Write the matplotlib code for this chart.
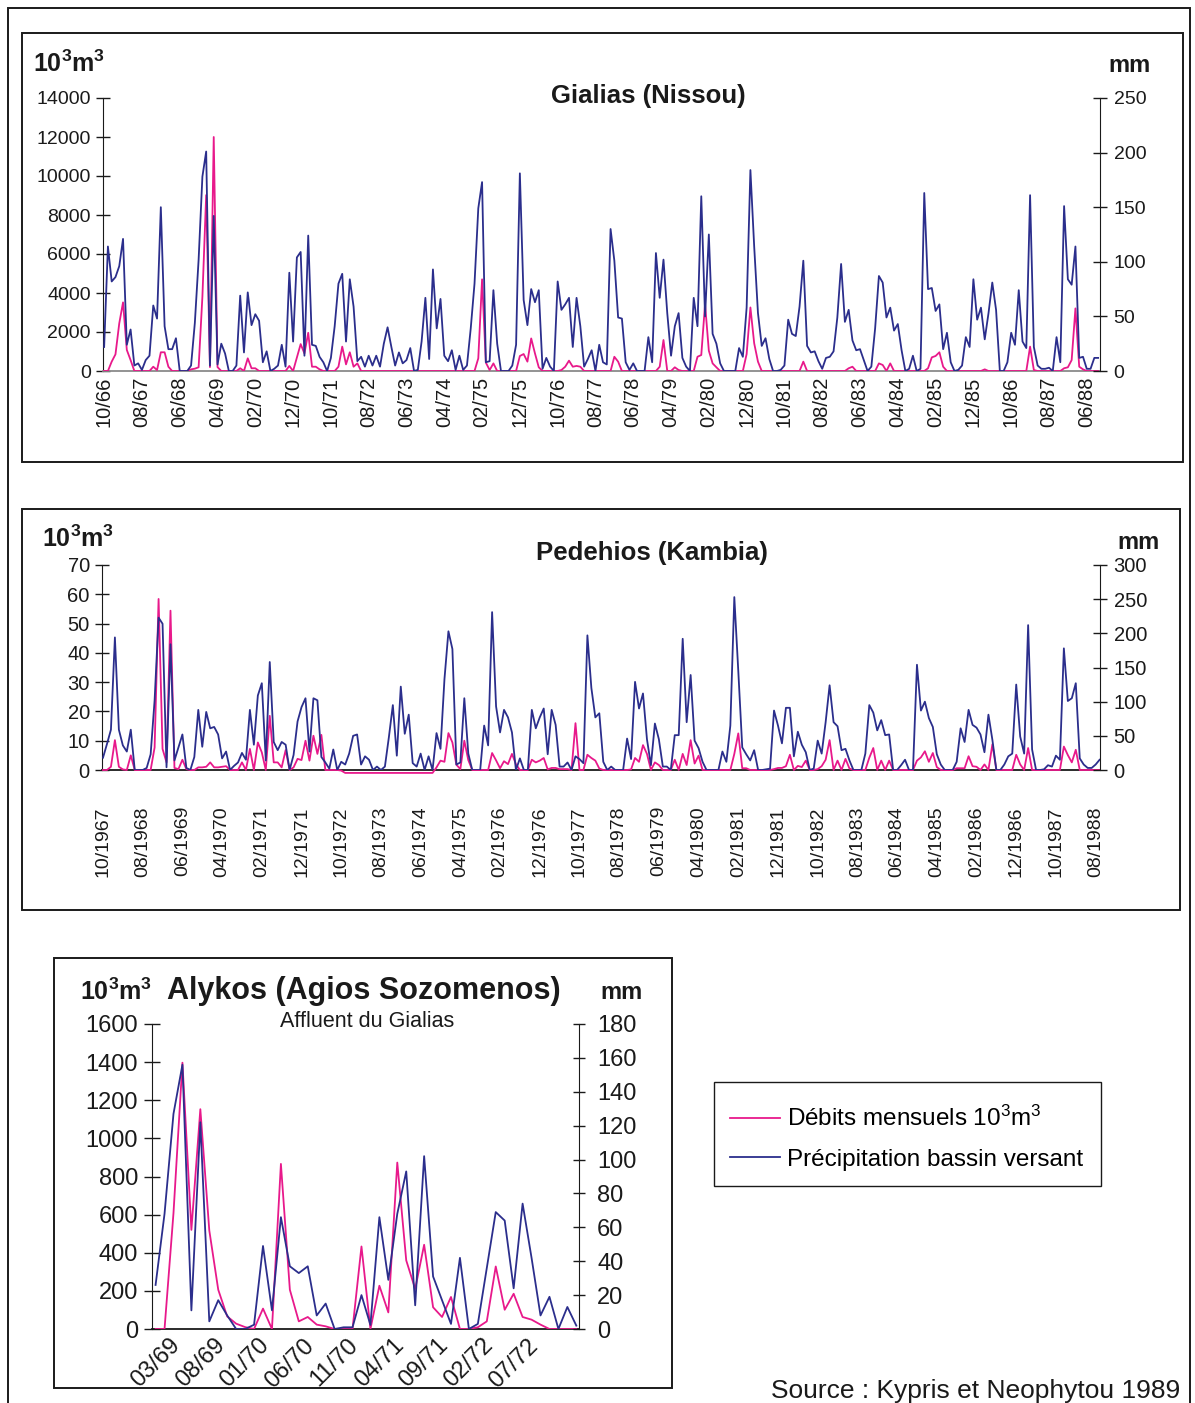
import numpy as np
import matplotlib.pyplot as plt
from matplotlib.patches import Rectangle
from matplotlib.lines import Line2D

plt.rcParams['font.family'] = ['Liberation Sans', 'DejaVu Sans']
plt.rcParams['mathtext.fontset'] = 'custom'
plt.rcParams['mathtext.rm'] = 'Liberation Sans'
plt.rcParams['mathtext.bf'] = 'Liberation Sans:bold'
plt.rcParams['mathtext.it'] = 'Liberation Sans:italic'

# --- Gialias (Nissou), mensuel 10/66 -> 09/88 ---
gialias_labels = ['10/66', '08/67', '06/68', '04/69', '02/70', '12/70', '10/71', '08/72', '06/73',
                  '04/74', '02/75', '12/75', '10/76', '08/77', '06/78', '04/79', '02/80', '12/80',
                  '10/81', '08/82', '06/83', '04/84', '02/85', '12/85', '10/86', '08/87', '06/88']
gialias_flow = [0, 0, 480, 855, 2440, 3520, 1080, 560, 0, 0,
                0, 0, 0, 220, 50, 960, 960, 220, 0, 0,
                0, 0, 0, 85, 120, 190, 3810, 9020, 200, 12000,
                200, 0, 0, 0, 0, 0, 140, 0, 650, 140,
                140, 0, 0, 0, 0, 0, 0, 0, 0, 260,
                0, 700, 1380, 900, 1960, 220, 220, 85, 0, 0,
                0, 0, 220, 1250, 340, 960, 220, 390, 0, 0,
                0, 0, 0, 0, 0, 0, 0, 0, 0, 0,
                0, 0, 0, 0, 0, 0, 0, 0, 0, 0,
                0, 0, 0, 0, 0, 0, 0, 0, 0, 650,
                4700, 430, 50, 390, 0, 0, 0, 0, 0, 0,
                770, 870, 480, 1670, 900, 190, 0, 0, 0, 0,
                0, 50, 220, 530, 220, 260, 220, 0, 0, 0,
                0, 0, 0, 0, 0, 730, 480, 0, 0, 0,
                0, 0, 0, 0, 0, 0, 0, 220, 1590, 0,
                0, 190, 50, 0, 0, 0, 0, 730, 820, 3430,
                1040, 390, 190, 0, 0, 0, 0, 0, 0, 0,
                870, 3260, 1420, 480, 0, 0, 0, 0, 0, 0,
                0, 0, 0, 0, 0, 480, 0, 0, 0, 0,
                0, 0, 0, 0, 0, 0, 0, 140, 220, 0,
                0, 0, 0, 0, 0, 390, 310, 0, 390, 0,
                0, 0, 0, 0, 0, 0, 0, 0, 140, 700,
                770, 960, 220, 0, 0, 0, 0, 0, 0, 0,
                0, 0, 0, 85, 0, 0, 0, 0, 0, 0,
                0, 0, 0, 0, 0, 1250, 50, 0, 0, 0,
                0, 0, 0, 0, 140, 190, 560, 3210, 220, 85,
                0, 0, 0, 0]
gialias_rain = [22, 114, 82, 86, 96, 121, 24, 38, 5, 7,
                1, 10, 14, 60, 48, 150, 41, 20, 20, 30,
                0, 0, 0, 5, 44, 102, 178, 201, 5, 142,
                6, 25, 16, 0, 0, 5, 69, 17, 72, 42,
                52, 46, 8, 18, 0, 2, 5, 24, 4, 90,
                27, 104, 109, 14, 124, 24, 23, 13, 8, 0,
                12, 41, 80, 89, 27, 84, 59, 9, 13, 4,
                14, 5, 14, 4, 25, 40, 22, 5, 17, 7,
                10, 21, 0, 1, 27, 67, 11, 93, 39, 66,
                14, 9, 19, 1, 14, 1, 5, 39, 80, 149,
                173, 8, 9, 74, 25, 0, 0, 0, 5, 24,
                181, 65, 42, 75, 63, 74, 2, 12, 4, 0,
                82, 56, 61, 67, 22, 67, 41, 4, 11, 19,
                0, 24, 8, 6, 130, 101, 49, 48, 8, 1,
                7, 0, 0, 0, 31, 8, 108, 67, 102, 53,
                14, 41, 53, 12, 4, 0, 67, 41, 160, 50,
                125, 34, 25, 7, 0, 0, 0, 0, 21, 13,
                58, 184, 114, 53, 23, 30, 11, 0, 0, 1,
                5, 47, 34, 32, 59, 101, 23, 17, 18, 9,
                2, 12, 13, 18, 49, 98, 45, 56, 28, 19,
                20, 10, 0, 4, 39, 87, 81, 49, 58, 37,
                43, 19, 0, 2, 14, 0, 2, 163, 75, 76,
                55, 61, 20, 35, 8, 0, 1, 5, 31, 22,
                84, 47, 58, 29, 53, 81, 56, 0, 0, 8,
                35, 24, 74, 27, 21, 161, 22, 5, 2, 2,
                3, 0, 31, 8, 151, 84, 79, 114, 12, 13,
                2, 2, 12, 12]

# --- Pedehios (Kambia), mensuel 10/1967 -> 09/1988 ---
pedehios_labels = ['10/1967', '08/1968', '06/1969', '04/1970', '02/1971', '12/1971', '10/1972',
                   '08/1973', '06/1974', '04/1975', '02/1976', '12/1976', '10/1977', '08/1978',
                   '06/1979', '04/1980', '02/1981', '12/1981', '10/1982', '08/1983', '06/1984',
                   '04/1985', '02/1986', '12/1986', '10/1987', '08/1988']
pedehios_flow = [0, 0, 1.1, 10.2, 1.1, 0.2, 0, 5, 0, 0,
                 0, 0, 0, 7.7, 58.4, 7.2, 2.6, 54.4, 0.7, 0.3,
                 3.5, 0.3, 0, 0, 0.9, 0.9, 1.1, 2.6, 0.9, 0.9,
                 1.1, 1.3, 0, 0, 0, 2.6, 0, 7.2, 0, 9.4,
                 6, 0, 18.5, 2.6, 2.6, 0.9, 6.8, 0, 0.9, 3.8,
                 3.4, 10, 3.2, 11.7, 5.5, 12, 0, 0, 0, 0,
                 -0.2, -1, -1, -1, -1, -1, -1, -1, -1, -1,
                 -1, -1, -1, -1, -1, -1, -1, -1, -1, -1,
                 -1, -1, -1, -1, 0.9, 3.2, 2.8, 12.6, 9.4, 1.8,
                 0.3, 10, 3.4, 0, 0, 0, 0, 0, 5.8, 3.3,
                 0.6, 3, 2, 5.5, 2, 0, 0, 0, 3.5, 2.6,
                 3.2, 4.1, 0.2, 0.7, 0.7, 0.3, 0.3, 0.3, 0, 16,
                 0, 0, 5.2, 4.1, 3.2, 0.5, 0, 0, 0, 0,
                 0, 0, 0, 0.2, 4.1, 2.8, 8.5, 5.5, 0, 2.6,
                 1.7, 0, 0, 0, 3.5, 0, 5.5, 1.7, 10.2, 2.2,
                 4.9, 0, 0, 0, 0, 0, 0, 0, 0, 5.5,
                 12.5, 0.6, 0.6, 0, 0, 0, 0, 0, 0, 0.3,
                 0.7, 0.7, 1.3, 5.2, 0, 1.4, 1, 3.2, 0, 0,
                 0.3, 1.3, 3.5, 10.2, 0, 3.2, 0, 3.8, 0.5, 0,
                 0, 0, 0, 4.2, 7.5, 0, 3.2, 0, 3.2, 0,
                 0, 0, 0, 0, 0, 3.2, 4.3, 6.4, 2.8, 5.8,
                 1, 0, 0, 0, 0, 0.6, 0.6, 0.6, 4.7, 1.3,
                 1.1, 0, 1.9, 0, 8.8, 0, 0, 0, 0, 0,
                 5.2, 1.9, 0, 7.5, 0, 0, 0, 0, 0, 0,
                 0, 0, 8, 5.1, 2.6, 6.9, 0, 0, 0, 0,
                 0, 0]
pedehios_rain = [18, 38, 59, 194, 59, 36, 27, 59, 0, 0,
                 0, 3, 23, 102, 223, 214, 4, 184, 14, 33,
                 52, 3, 0, 19, 88, 34, 85, 61, 63, 52,
                 17, 27, 0, 6, 11, 25, 15, 88, 37, 109,
                 127, 14, 158, 41, 29, 41, 37, 0, 22, 71,
                 92, 105, 27, 105, 102, 19, 11, 2, 30, 0,
                 12, 8, 24, 50, 52, 8, 20, 15, 0, 5,
                 0, 5, 48, 95, 21, 122, 53, 81, 10, 5,
                 24, 0, 20, 0, 54, 31, 133, 203, 177, 8,
                 11, 105, 24, 0, 0, 0, 65, 36, 231, 93,
                 55, 88, 77, 55, 0, 17, 0, 0, 88, 61,
                 77, 90, 23, 88, 66, 5, 5, 11, 0, 20,
                 16, 10, 197, 120, 77, 83, 12, 0, 5, 0,
                 0, 0, 46, 16, 129, 90, 112, 45, 7, 68,
                 45, 5, 5, 0, 51, 51, 192, 70, 139, 43,
                 32, 12, 0, 0, 0, 0, 27, 12, 65, 253,
                 145, 33, 23, 14, 29, 0, 0, 1, 2, 87,
                 65, 39, 91, 91, 20, 56, 37, 26, 0, 2,
                 43, 24, 70, 124, 70, 64, 29, 31, 14, 0,
                 0, 0, 24, 95, 84, 58, 73, 51, 52, 0,
                 0, 7, 15, 0, 0, 154, 87, 100, 76, 63,
                 23, 8, 0, 0, 0, 12, 61, 41, 88, 66,
                 62, 52, 26, 81, 44, 0, 0, 8, 20, 24,
                 125, 49, 24, 212, 30, 0, 0, 1, 7, 5,
                 21, 15, 178, 101, 105, 127, 17, 8, 3, 3,
                 8, 15]

# --- Alykos (Agios Sozomenos), mensuel 03/69 -> 02/73 ---
alykos_labels = ['03/69', '08/69', '01/70', '06/70', '11/70', '04/71', '09/71', '02/72', '07/72']
alykos_flow = [0, 0, 608, 1397, 520, 1153, 517, 206, 66, 28,
               10, 0, 107, 0, 866, 206, 40, 63, 23, 14,
               0, 0, 0, 433, 0, 227, 87, 873, 360, 210,
               442, 114, 63, 168, 0, 0, 9, 40, 328, 101,
               185, 63, 49, 23, 0, 0, 0, 0]
alykos_rain = [26, 68, 127, 156, 11, 122, 4.5, 17, 8, 0,
               0, 2.5, 49, 11, 66, 37, 33, 37, 8, 15,
               0, 1, 1, 20, 2.4, 66, 29, 68, 93, 14,
               102, 31, 17, 3, 42, 0, 3, 36, 69, 64,
               24, 74, 42, 8, 19, 0, 13, 2]

PINK = '#E8198B'
BLUE = '#2B2E8C'
INK = '#1a1a1a'
W, H = 1195, 1403


def fx(x):
    return x / W


def fy(y):
    return 1 - y / H


def box(l, t, r, b):
    return [fx(l), fy(b), (r - l) / W, (b - t) / H]


def make_panel(rect, flow, rain, ylim_l, step_l, ylim_r, step_r, xlim, tick_step, labels,
               fs_y, fs_x, len_l, len_r, rot, base_color, xpad=4, clip=True):
    ax = fig.add_axes(rect)
    x = np.arange(len(flow))
    ax.plot(x, flow, color=PINK, lw=1.3, clip_on=clip, zorder=3)
    axr = ax.twinx()
    axr.plot(np.arange(len(rain)), rain, color=BLUE, lw=1.3)
    ax.set_ylim(0, ylim_l)
    ax.set_yticks(np.arange(0, ylim_l + 1, step_l))
    axr.set_ylim(0, ylim_r)
    axr.set_yticks(np.arange(0, ylim_r + 1, step_r))
    ax.set_xlim(*xlim)
    ax.set_xticks(np.arange(len(labels)) * tick_step)
    ax.set_xticklabels(labels, rotation=rot, ha='center')
    for s in ['top', 'right']:
        ax.spines[s].set_visible(False)
    for s in ['top', 'left', 'bottom']:
        axr.spines[s].set_visible(False)
    ax.spines['left'].set_color(INK)
    axr.spines['right'].set_color(INK)
    ax.spines['bottom'].set_color(base_color)
    ax.spines['bottom'].set_linewidth(1.3)
    ax.tick_params(axis='y', direction='inout', length=len_l, width=1, labelsize=fs_y,
                   pad=4, colors=INK)
    axr.tick_params(axis='y', direction='inout', length=len_r, width=1, labelsize=fs_y,
                    pad=5, colors=INK)
    ax.tick_params(axis='x', length=0, labelsize=fs_x, pad=xpad, colors=INK)
    ax.patch.set_visible(False)
    return ax, axr


fig = plt.figure(figsize=(W / 100, H / 100), dpi=100)

# cadres
for l, t, r, b in [(8, 8, 1190, 1430), (22, 33, 1183, 462), (22, 509, 1180, 910),
                   (54, 958, 672, 1388), (714, 1082, 1101, 1186)]:
    fig.add_artist(Rectangle((fx(l), fy(b)), (r - l) / W, (b - t) / H,
                             transform=fig.transFigure, fill=False,
                             lw=1.0 if l == 714 else 1.4, ec=INK))

# Gialias
make_panel(box(103, 98, 1100, 371), gialias_flow, gialias_rain, 14000, 2000, 250, 50,
           (-0.3, 263.5), 10, gialias_labels, 14, 14.5, 9.5, 9.5, 90, '#8a8a8a')
fig.text(fx(33), fy(72), r'$\mathbf{10^3m^3}$', fontsize=18, va='baseline', color=INK)
fig.text(fx(1108), fy(72), 'mm', fontsize=17, fontweight='bold', va='baseline', color=INK)
fig.text(fx(648), fy(103), 'Gialias (Nissou)', fontsize=18.5, fontweight='bold',
         ha='center', va='baseline', color=INK)

# Pedehios
make_panel(box(102, 565, 1100, 770), pedehios_flow, pedehios_rain, 70, 10, 300, 50,
           (-0.25, 251.1), 10, pedehios_labels, 14.5, 14, 9.5, 9.5, 90, INK,
           xpad=26, clip=False)
fig.text(fx(42), fy(547), r'$\mathbf{10^3m^3}$', fontsize=18, va='baseline', color=INK)
fig.text(fx(1117), fy(549), 'mm', fontsize=17, fontweight='bold', va='baseline', color=INK)
fig.text(fx(652), fy(560), 'Pedehios (Kambia)', fontsize=18.5, fontweight='bold',
         ha='center', va='baseline', color=INK)

# Alykos
ax3, ax3r = make_panel(box(152, 1024, 579, 1329), alykos_flow, alykos_rain, 1600, 200, 180, 20,
                       (-0.4, 47.3), 5, alykos_labels, 17, 17, 12, 8, 45, INK)
ax3r.tick_params(axis='y', pad=9)
fig.text(fx(80), fy(1000), r'$\mathbf{10^3m^3}$', fontsize=18, va='baseline', color=INK)
fig.text(fx(167), fy(999), 'Alykos (Agios Sozomenos)', fontsize=22, fontweight='bold',
         va='baseline', color=INK)
fig.text(fx(600), fy(999), 'mm', fontsize=17, fontweight='bold', va='baseline', color=INK)
fig.text(fx(367), fy(1027), 'Affluent du Gialias', fontsize=15.5, ha='center',
         va='baseline', color=INK)

# légende (cadre dessiné ci-dessus)
handles = [Line2D([], [], color=PINK, lw=1.3), Line2D([], [], color=BLUE, lw=1.3)]
fig.legend(handles, ['Débits mensuels 10$^3$m$^3$', 'Précipitation bassin versant'],
           loc='upper left', bbox_to_anchor=(fx(730), fy(1106)),
           bbox_transform=fig.transFigure, fontsize=17.5, frameon=False,
           borderaxespad=0, borderpad=0, handlelength=2.05,
           handletextpad=0.3, labelspacing=0.72)

fig.text(fx(1180), fy(1398), 'Source : Kypris et Neophytou 1989', fontsize=19,
         ha='right', va='baseline', color=INK)

fig.savefig('out.png', dpi=100)
